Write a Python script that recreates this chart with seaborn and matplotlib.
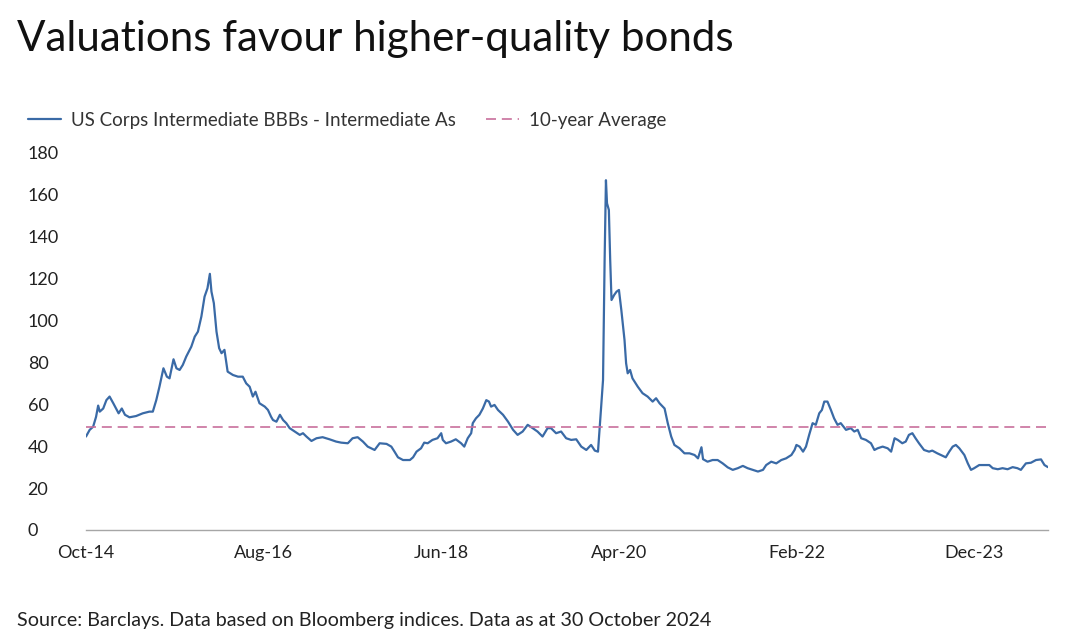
import pandas as pd
import seaborn as sns
import matplotlib.pyplot as plt

# spread series (bp)
dates = [
    "2014-10-01", "2014-10-15", "2014-10-28", "2014-11-08", "2014-11-16", "2014-11-22",
    "2014-12-05", "2014-12-17", "2014-12-29", "2015-01-12", "2015-02-01", "2015-02-13",
    "2015-02-25", "2015-03-14", "2015-04-08", "2015-05-03", "2015-05-28", "2015-06-10",
    "2015-06-23", "2015-07-05", "2015-07-20", "2015-08-02", "2015-08-12", "2015-08-27",
    "2015-09-07", "2015-09-19", "2015-10-01", "2015-10-14", "2015-11-02", "2015-11-15",
    "2015-11-27", "2015-12-10", "2015-12-22", "2016-01-02", "2016-01-11", "2016-01-17",
    "2016-01-26", "2016-02-05", "2016-02-15", "2016-02-24", "2016-03-06", "2016-03-18",
    "2016-04-07", "2016-04-26", "2016-05-14", "2016-05-27", "2016-06-09", "2016-06-21",
    "2016-07-01", "2016-07-16", "2016-08-05", "2016-08-17", "2016-08-29", "2016-09-05",
    "2016-09-18", "2016-10-01", "2016-10-13", "2016-10-25", "2016-11-07", "2016-11-26",
    "2016-12-15", "2016-12-27", "2017-01-09", "2017-01-28", "2017-02-16", "2017-03-11",
    "2017-04-06", "2017-05-01", "2017-05-20", "2017-06-14", "2017-07-02", "2017-07-21",
    "2017-08-10", "2017-08-28", "2017-09-23", "2017-10-12", "2017-11-07", "2017-11-25",
    "2017-12-07", "2017-12-20", "2018-01-08", "2018-02-03", "2018-02-15", "2018-02-28",
    "2018-03-17", "2018-03-29", "2018-04-11", "2018-04-29", "2018-05-18", "2018-06-01",
    "2018-06-07", "2018-06-19", "2018-07-08", "2018-07-26", "2018-08-15", "2018-08-27",
    "2018-09-09", "2018-09-22", "2018-09-28", "2018-10-10", "2018-10-23", "2018-11-05",
    "2018-11-18", "2018-11-28", "2018-12-06", "2018-12-19", "2019-01-01", "2019-01-20",
    "2019-02-08", "2019-02-27", "2019-03-16", "2019-04-04", "2019-04-23", "2019-05-12",
    "2019-05-30", "2019-06-18", "2019-07-07", "2019-07-20", "2019-08-08", "2019-08-27",
    "2019-09-15", "2019-10-04", "2019-10-23", "2019-11-11", "2019-11-30", "2019-12-18",
    "2020-01-01", "2020-01-13", "2020-01-19", "2020-01-25", "2020-02-01", "2020-02-07",
    "2020-02-12", "2020-02-16", "2020-02-23", "2020-02-28", "2020-03-04", "2020-03-14",
    "2020-03-23", "2020-04-01", "2020-04-10", "2020-04-22", "2020-04-28", "2020-05-04",
    "2020-05-13", "2020-05-22", "2020-06-11", "2020-06-29", "2020-07-18", "2020-08-06",
    "2020-08-19", "2020-09-01", "2020-09-20", "2020-10-02", "2020-10-15", "2020-10-27",
    "2020-11-15", "2020-12-04", "2020-12-23", "2021-01-11", "2021-01-24", "2021-02-06",
    "2021-02-12", "2021-03-01", "2021-03-20", "2021-04-08", "2021-04-27", "2021-05-16",
    "2021-06-04", "2021-06-23", "2021-07-12", "2021-07-30", "2021-08-18", "2021-09-07",
    "2021-09-26", "2021-10-08", "2021-10-27", "2021-11-15", "2021-12-04", "2021-12-22",
    "2022-01-11", "2022-01-23", "2022-01-30", "2022-02-11", "2022-02-24", "2022-03-07",
    "2022-03-19", "2022-04-01", "2022-04-13", "2022-04-26", "2022-05-06", "2022-05-15",
    "2022-05-27", "2022-06-09", "2022-06-21", "2022-07-04", "2022-07-16", "2022-08-05",
    "2022-08-23", "2022-09-05", "2022-09-18", "2022-10-01", "2022-10-19", "2022-11-07",
    "2022-11-20", "2022-12-02", "2022-12-21", "2023-01-09", "2023-01-22", "2023-02-04",
    "2023-02-16", "2023-03-05", "2023-03-18", "2023-03-30", "2023-04-12", "2023-04-24",
    "2023-05-07", "2023-05-26", "2023-06-14", "2023-06-26", "2023-07-15", "2023-08-04",
    "2023-08-16", "2023-08-29", "2023-09-11", "2023-09-23", "2023-10-06", "2023-10-25",
    "2023-11-07", "2023-11-19", "2023-12-01", "2023-12-20", "2024-01-09", "2024-01-27",
    "2024-02-09", "2024-02-28", "2024-03-17", "2024-04-05", "2024-04-24", "2024-05-12",
    "2024-05-25", "2024-06-13", "2024-07-02", "2024-07-21", "2024-08-09", "2024-08-22",
    "2024-09-04",
]
spread = [
    44.6, 47.8, 49.3, 54.0, 59.4, 56.5,
    58.0, 62.0, 63.7, 60.5, 55.7, 58.0,
    55.0, 53.8, 54.4, 55.7, 56.5, 56.5,
    62.0, 68.4, 77.2, 73.2, 72.4, 81.5,
    77.2, 76.4, 78.8, 82.8, 87.5, 92.3,
    94.7, 101.9, 111.4, 115.4, 122.3, 113.8,
    108.3, 94.7, 86.8, 84.4, 86.0, 75.6,
    74.0, 73.2, 73.2, 70.0, 68.4, 63.7,
    66.0, 60.5, 58.9, 57.3, 54.0, 52.5,
    51.7, 55.0, 52.5, 51.0, 48.6, 47.0,
    45.4, 46.2, 44.6, 42.5, 43.8, 44.3,
    43.3, 42.2, 41.7, 41.4, 43.8, 44.3,
    42.2, 39.8, 38.2, 41.4, 41.1, 39.8,
    37.4, 34.7, 33.4, 33.4, 34.7, 37.4,
    39.0, 41.7, 41.4, 43.0, 43.8, 46.2,
    43.0, 41.4, 42.2, 43.3, 41.4, 39.8,
    43.8, 46.2, 51.0, 53.3, 55.0, 58.0,
    62.0, 61.3, 58.9, 59.7, 57.3, 55.0,
    51.7, 47.8, 45.4, 47.0, 50.2, 48.6,
    47.0, 44.6, 48.6, 48.6, 46.2, 47.0,
    43.8, 43.0, 43.3, 39.8, 38.2, 40.6,
    37.9, 37.4, 47.8, 58.9, 71.6, 129.0,
    167.0, 156.0, 152.8, 129.0, 109.8, 112.2,
    113.8, 114.6, 105.0, 90.7, 79.6, 74.8,
    76.4, 72.4, 68.4, 65.3, 63.7, 61.3,
    62.9, 60.5, 58.0, 51.0, 44.6, 40.6,
    39.0, 36.6, 36.6, 35.8, 34.2, 39.5,
    33.8, 32.6, 33.4, 33.4, 31.8, 29.9,
    28.7, 29.5, 30.6, 29.5, 28.7, 27.9,
    28.7, 31.0, 32.6, 31.8, 33.4, 34.2,
    35.8, 38.2, 40.6, 39.8, 37.4, 39.8,
    45.4, 51.0, 50.2, 55.7, 57.3, 61.3,
    61.3, 57.3, 53.3, 50.2, 51.0, 47.8,
    48.6, 47.0, 47.8, 43.8, 43.0, 41.4,
    38.2, 39.0, 39.8, 39.0, 37.4, 43.8,
    43.0, 41.4, 42.2, 45.4, 46.2, 43.8,
    41.4, 38.2, 37.4, 37.9, 36.6, 35.4,
    34.7, 37.4, 39.8, 40.6, 39.0, 35.8,
    31.8, 28.7, 29.5, 31.0, 31.0, 31.0,
    29.5, 29.0, 29.5, 29.0, 30.0, 29.5,
    28.7, 31.8, 32.1, 33.4, 33.7, 31.0,
    30.0,
]
ten_year_avg = 49.3

tick_dates = ["2014-10-01", "2016-08-01", "2018-06-01", "2020-04-01", "2022-02-01", "2023-12-01"]
tick_labels = ["Oct-14", "Aug-16", "Jun-18", "Apr-20", "Feb-22", "Dec-23"]
y_ticks = [0, 20, 40, 60, 80, 100, 120, 140, 160, 180]

series_label = "US Corps Intermediate BBBs - Intermediate As"
avg_label = "10-year Average"
line_blue = "#3a6aa6"
avg_pink = "#c8709c"

df = pd.DataFrame({"date": pd.to_datetime(dates), "spread": spread})
df["avg"] = ten_year_avg

sns.set_style("white")
plt.rcParams["font.family"] = ["Lato", "DejaVu Sans"]

fig = plt.figure(figsize=(10.8, 6.42), dpi=100)
ax = fig.add_axes([0.0796, 0.1745, 0.8907, 0.5872])

sns.lineplot(data=df, x="date", y="spread", ax=ax, color=line_blue, linewidth=1.6, label=series_label)
sns.lineplot(data=df, x="date", y="avg", ax=ax, color=avg_pink, linewidth=1.2,
             dashes=False, label=avg_label)
ax.lines[1].set_dashes((6, 3.5))

ax.set_xlim(pd.Timestamp(dates[0]), pd.Timestamp(dates[-1]))
ax.set_ylim(0, 180)
ax.set_yticks(y_ticks)
ax.set_xticks(pd.to_datetime(tick_dates))
ax.set_xticklabels(tick_labels)
ax.set_xlabel("")
ax.set_ylabel("")

for side in ["top", "right", "left"]:
    ax.spines[side].set_visible(False)
ax.spines["bottom"].set_color("#a6a6a6")
ax.spines["bottom"].set_linewidth(1.0)
ax.tick_params(axis="x", length=5, width=1.0, color="#a6a6a6", labelsize=13, labelcolor="#222222", pad=6)
ax.tick_params(axis="y", length=0, labelsize=13, labelcolor="#222222", pad=42)
for t in ax.get_yticklabels():
    t.set_horizontalalignment("left")

handles, labels = ax.get_legend_handles_labels()
ax.get_legend().remove()
fig.legend(handles, labels, loc="center left", bbox_to_anchor=(0.026, 0.813), ncol=2,
           frameon=False, fontsize=13.5, handlelength=1.75, handletextpad=0.55,
           columnspacing=1.6, borderaxespad=0, borderpad=0, labelcolor="#333333")

fig.text(0.016, 0.94, "Valuations favour higher-quality bonds", fontsize=30.3, color="#111111",
         va="center", ha="left")
fig.text(0.016, 0.034, "Source: Barclays. Data based on Bloomberg indices. Data as at 30 October 2024",
         fontsize=14.2, color="#222222", va="center", ha="left")

fig.savefig("out.png", dpi=100)
plt.close(fig)
